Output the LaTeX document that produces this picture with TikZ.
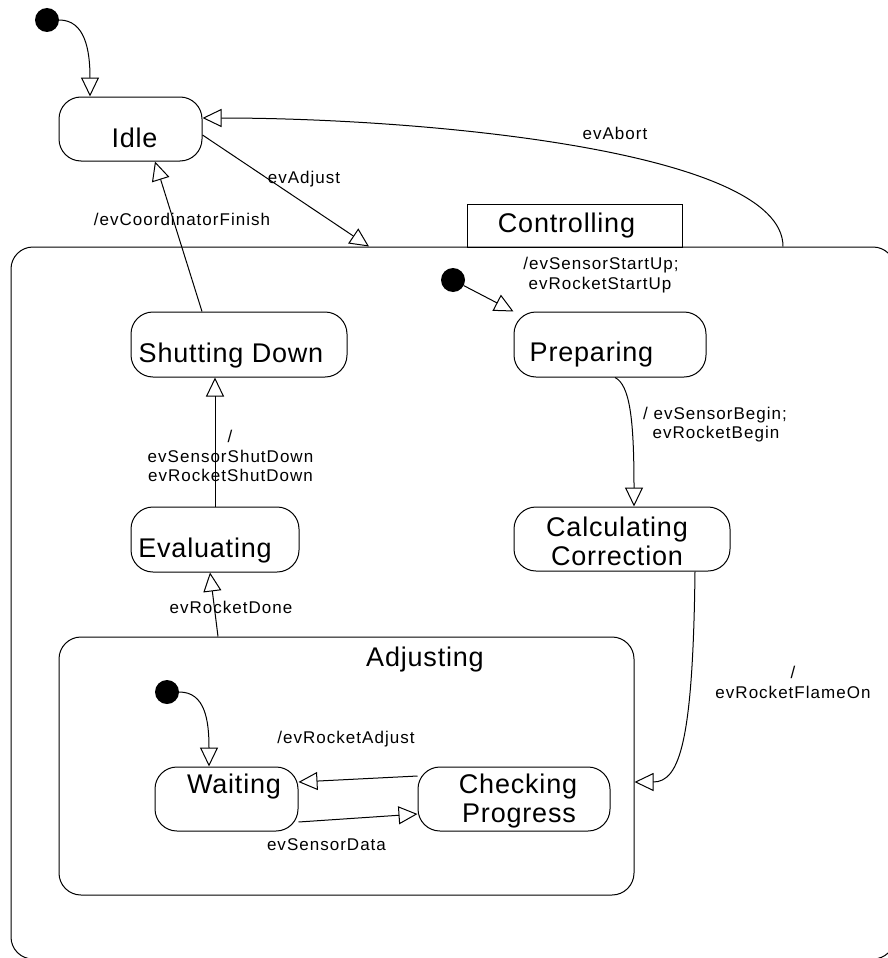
\documentclass[tikz,border=0pt]{standalone}
\usepackage{fontspec}
\setmainfont{Liberation Sans}
\newfontfamily\stfont{Liberation Sans}[LetterSpace=3]
\newfontfamily\evfont{Liberation Sans}[LetterSpace=6]
\usetikzlibrary{arrows.meta}

\tikzset{
  state/.style={draw, line width=1pt, rounded corners=22pt, inner sep=0pt},
  stname/.style={font=\stfont\fontsize{27}{32}\selectfont, anchor=base, inner sep=0pt},
  evlabel/.style={font=\evfont\fontsize{17}{20}\selectfont, anchor=base, inner sep=0pt},
  trans/.style={line width=1pt, -{Triangle[open, length=19pt, width=18pt]}},
  initdot/.style={circle, fill=black, minimum size=24pt, inner sep=0pt},
}

\begin{document}
\begin{tikzpicture}[x=1pt, y=-1pt]
\useasboundingbox (0,0) rectangle (888,958);
\clip (0,0) rectangle (888,958);

% composite state Controlling and its name tab
\node[state, minimum width=884pt, minimum height=712pt] (ctrl) at (453,603) {};
\node[draw, line width=1pt, minimum width=215pt, minimum height=43pt, inner sep=0pt] (ctrltab) at (574.5,225.5) {};
\node[stname] (ctrlname) at (566.5,232) {Controlling};

% composite state Adjusting
\node[state, minimum width=575pt, minimum height=258pt] (adj) at (346.5,766) {};
\node[stname] (adjname) at (425,666) {Adjusting};

% simple states
\node[state, minimum width=143pt, minimum height=64pt] (idle) at (130.5,129) {};
\node[stname] (idlename) at (134.5,147) {Idle};

\node[state, minimum width=216pt, minimum height=65pt] (shut) at (239,344.5) {};
\node[stname] (shutname) at (231,362) {Shutting Down};

\node[state, minimum width=168pt, minimum height=65pt] (eval) at (215,539.5) {};
\node[stname] (evalname) at (205,557) {Evaluating};

\node[state, minimum width=192pt, minimum height=65pt] (prep) at (610,344.5) {};
\node[stname] (prepname) at (591.5,361) {Preparing};

\node[state, minimum width=216pt, minimum height=64pt] (calc) at (622,539) {};
\node[stname] (calcname1) at (617,536) {Calculating};
\node[stname] (calcname2) at (617,565) {Correction};

\node[state, minimum width=143pt, minimum height=64pt] (wait) at (226.5,799) {};
\node[stname] (waitname) at (234,793) {Waiting};

\node[state, minimum width=192pt, minimum height=64pt] (check) at (514,799) {};
\node[stname] (checkname1) at (518,793) {Checking};
\node[stname] (checkname2) at (519,822) {Progress};

% initial pseudostates
\node[initdot] (init0) at (47,20) {};
\node[initdot] (init1) at (453,280) {};
\node[initdot] (init2) at (167,692) {};

% transitions
\draw[trans] (init0.east) .. controls (85,20) and (90,50) .. (idle.north -| 90,0);
\draw[trans] (ctrl.north -| 783,0) .. controls (783,150) and (420,118) .. (idle.east |- 0,118);
\draw[trans] (idle.east |- 0,135) -- (ctrl.north -| 369,0);
\draw[trans] (shut.north -| 202,0) -- (idle.south -| 155,0);
\draw[trans] (eval.north) -- (shut.south -| 215,0);
\draw[trans] (adj.north -| 218,0) -- (eval.south -| 210,0);
\draw[trans] (init1) -- (prep.north west);
\draw[trans] (prep.south -| 615,0) .. controls (630,385) and (634,420) .. (calc.north -| 634,0);
\draw[trans] (calc.south -| 695,0) .. controls (693,740) and (680,782) .. (adj.east |- 0,782);
\draw[trans] (init2.east) .. controls (205,692) and (209,720) .. (wait.north -| 209,0);
\draw[trans] (check.west |- 0,776) -- (wait.east |- 0,782);
\draw[trans] (wait.east |- 0,822) -- (check.west |- 0,814);

% transition labels
\node[evlabel] (lAbort) at (615,139) {evAbort};
\node[evlabel] (lAdjust) at (304,183) {evAdjust};
\node[evlabel] (lFinish) at (182,225) {/evCoordinatorFinish};
\node[evlabel] (lStart1) at (601,269) {/evSensorStartUp;};
\node[evlabel] (lStart2) at (600,289) {evRocketStartUp};
\node[evlabel] (lBegin1) at (715,419) {/ evSensorBegin;};
\node[evlabel] (lBegin2) at (716,438) {evRocketBegin};
\node[evlabel] (lShut0) at (230,442) {/};
\node[evlabel] (lShut1) at (230.5,462) {evSensorShutDown};
\node[evlabel] (lShut2) at (230.5,481) {evRocketShutDown};
\node[evlabel] (lDone) at (231,613) {evRocketDone};
\node[evlabel] (lFlame0) at (793,678) {/};
\node[evlabel] (lFlame1) at (793,698) {evRocketFlameOn};
\node[evlabel] (lRAdj) at (346,743) {/evRocketAdjust};
\node[evlabel] (lSData) at (326.5,850) {evSensorData};
\end{tikzpicture}
\end{document}
